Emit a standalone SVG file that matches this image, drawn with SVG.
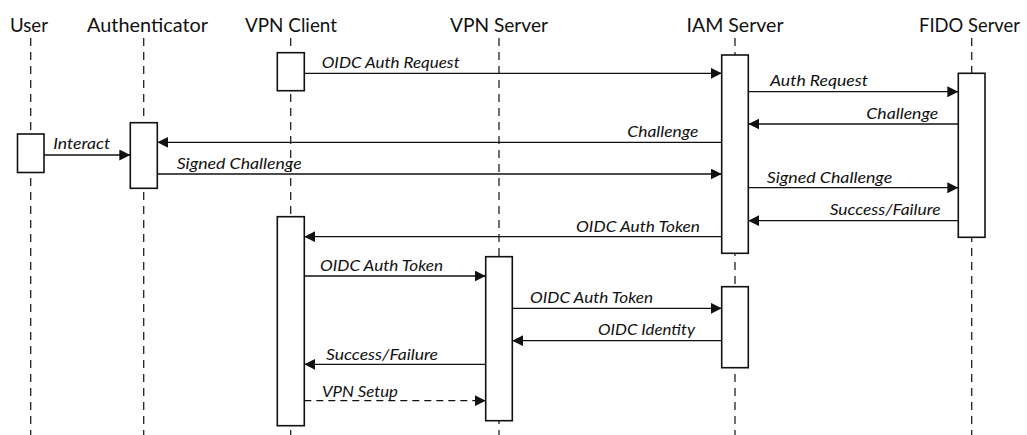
<svg xmlns="http://www.w3.org/2000/svg" width="1027" height="435" viewBox="0 0 1027 435">
  <style>
    .title { font-family: Lato, "Liberation Sans", sans-serif; font-size: 20px; fill: #111; text-anchor: middle; }
    .lbl { font-family: Lato, "Liberation Sans", sans-serif; font-size: 15px; font-style: italic; fill: #111; }
    .lbl.r { text-anchor: end; }
    .life { stroke: #222; stroke-width: 1.3; stroke-dasharray: 8 6; fill: none; }
    .act { fill: #fff; stroke: #111; stroke-width: 1.6; }
    .msg { stroke: #111; stroke-width: 1.3; fill: none; marker-end: url(#head); }
    .msg.dash { stroke-dasharray: 7 5; }
  </style>
  <defs>
    <marker id="head" markerUnits="userSpaceOnUse" markerWidth="12" markerHeight="12" refX="11" refY="5.5" orient="auto">
      <path d="M0,0 L11,5.5 L0,11 z" fill="#111"/>
    </marker>
  </defs>

  <!-- participants: lifeline, title, activation bars -->
  <g id="user">
    <line class="life" x1="30.7" y1="38" x2="30.7" y2="435"/>
    <text class="title" x="29" y="32" textLength="38" lengthAdjust="spacingAndGlyphs">User</text>
    <rect class="act" x="17.5" y="134" width="26.5" height="38.5"/>
  </g>
  <g id="authenticator">
    <line class="life" x1="143.7" y1="38" x2="143.7" y2="435"/>
    <text class="title" x="147.5" y="32" textLength="121" lengthAdjust="spacingAndGlyphs">Authenticator</text>
    <rect class="act" x="130.3" y="122.7" width="27" height="65.6"/>
  </g>
  <g id="vpn-client">
    <line class="life" x1="290.7" y1="38" x2="290.7" y2="435"/>
    <text class="title" x="291" y="32" textLength="92" lengthAdjust="spacingAndGlyphs">VPN Client</text>
    <rect class="act" x="277.3" y="52.7" width="27" height="38"/>
    <rect class="act" x="277.3" y="216.7" width="27" height="209"/>
  </g>
  <g id="vpn-server">
    <line class="life" x1="499" y1="38" x2="499" y2="435"/>
    <text class="title" x="499" y="32" textLength="98" lengthAdjust="spacingAndGlyphs">VPN Server</text>
    <rect class="act" x="485.7" y="256.7" width="26.6" height="164"/>
  </g>
  <g id="iam-server">
    <line class="life" x1="735" y1="38" x2="735" y2="435"/>
    <text class="title" x="735" y="32" textLength="97" lengthAdjust="spacingAndGlyphs">IAM Server</text>
    <rect class="act" x="721.7" y="55" width="26.6" height="198.3"/>
    <rect class="act" x="721.7" y="286.7" width="26.6" height="81"/>
  </g>
  <g id="fido-server">
    <line class="life" x1="971.7" y1="38" x2="971.7" y2="435"/>
    <text class="title" x="969.5" y="32" textLength="101" lengthAdjust="spacingAndGlyphs">FIDO Server</text>
    <rect class="act" x="958.3" y="73.3" width="26.7" height="164"/>
  </g>

  <!-- messages -->
  <g id="connectors">
    <line class="msg" x1="304.3" y1="73.3" x2="721.7" y2="73.3"/>
    <text class="lbl" x="321.7" y="68" textLength="138" lengthAdjust="spacingAndGlyphs">OIDC Auth Request</text>

    <line class="msg" x1="748.3" y1="91.7" x2="958.3" y2="91.7"/>
    <text class="lbl" x="770" y="86.3" textLength="98" lengthAdjust="spacingAndGlyphs">Auth Request</text>

    <line class="msg" x1="958.3" y1="124" x2="748.3" y2="124"/>
    <text class="lbl r" x="938.3" y="118.7" textLength="72" lengthAdjust="spacingAndGlyphs">Challenge</text>

    <line class="msg" x1="721.7" y1="142.3" x2="157.3" y2="142.3"/>
    <text class="lbl r" x="698.3" y="137.3" textLength="71" lengthAdjust="spacingAndGlyphs">Challenge</text>

    <line class="msg" x1="44" y1="155" x2="130.3" y2="155"/>
    <text class="lbl" x="53.3" y="149.3" textLength="57" lengthAdjust="spacingAndGlyphs">Interact</text>

    <line class="msg" x1="157.3" y1="174" x2="721.7" y2="174"/>
    <text class="lbl" x="176.7" y="169" textLength="125" lengthAdjust="spacingAndGlyphs">Signed Challenge</text>

    <line class="msg" x1="748.3" y1="187.7" x2="958.3" y2="187.7"/>
    <text class="lbl" x="766.7" y="182.5" textLength="125.6" lengthAdjust="spacingAndGlyphs">Signed Challenge</text>

    <line class="msg" x1="958.3" y1="220.7" x2="748.3" y2="220.7"/>
    <text class="lbl r" x="940.7" y="215.3" textLength="111" lengthAdjust="spacingAndGlyphs">Success/Failure</text>

    <line class="msg" x1="721.7" y1="236.7" x2="304.3" y2="236.7"/>
    <text class="lbl r" x="700" y="231.7" textLength="124" lengthAdjust="spacingAndGlyphs">OIDC Auth Token</text>

    <line class="msg" x1="304.3" y1="276" x2="485.7" y2="276"/>
    <text class="lbl" x="320" y="270.7" textLength="123" lengthAdjust="spacingAndGlyphs">OIDC Auth Token</text>

    <line class="msg" x1="512.3" y1="308.3" x2="721.7" y2="308.3"/>
    <text class="lbl" x="530" y="302.7" textLength="123" lengthAdjust="spacingAndGlyphs">OIDC Auth Token</text>

    <line class="msg" x1="721.7" y1="340.7" x2="512.3" y2="340.7"/>
    <text class="lbl r" x="695" y="335" textLength="97" lengthAdjust="spacingAndGlyphs">OIDC Identity</text>

    <line class="msg" x1="485.7" y1="364.3" x2="304.3" y2="364.3"/>
    <text class="lbl" x="326" y="359.7" textLength="112" lengthAdjust="spacingAndGlyphs">Success/Failure</text>

    <line class="msg dash" x1="304.3" y1="400.7" x2="485.7" y2="400.7"/>
    <text class="lbl" x="322" y="396.5" textLength="76" lengthAdjust="spacingAndGlyphs">VPN Setup</text>
  </g>
</svg>
